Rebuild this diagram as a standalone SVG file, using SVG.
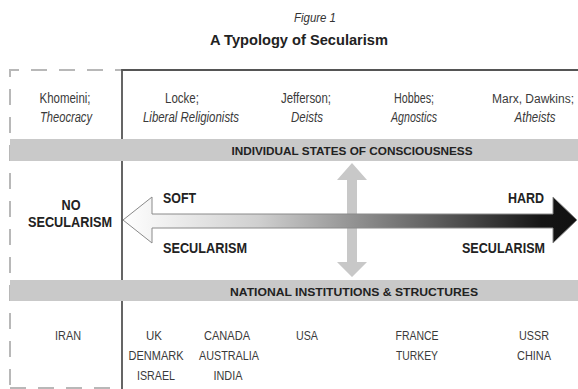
<svg xmlns="http://www.w3.org/2000/svg" width="578" height="389" viewBox="0 0 578 389">
<style>
text{font-family:"Liberation Sans","Arial",sans-serif;}
.t{fill:#3a3a3a;font-size:14px;text-anchor:middle;}
.c{fill:#3a3a3a;font-size:13.5px;text-anchor:middle;}
.i{font-style:italic;}
.b{font-weight:bold;fill:#222;font-size:15px;}
.band{fill:#c9c9c9;}
.bt{font-weight:bold;fill:#222;font-size:11.5px;text-anchor:middle;}
.dash{stroke:#b8b8b8;stroke-width:2;fill:none;stroke-dasharray:16 12;}
</style>
<defs>
<linearGradient id="g" x1="122" y1="0" x2="578" y2="0" gradientUnits="userSpaceOnUse">
<stop offset="0" stop-color="#ffffff"/>
<stop offset="0.3" stop-color="#cfcfcf"/>
<stop offset="0.7" stop-color="#5a5a5a"/>
<stop offset="0.92" stop-color="#151515"/>
<stop offset="1" stop-color="#111"/>
</linearGradient>
</defs>
<rect width="578" height="389" fill="#fff"/>
<g id="title">
<text x="294" y="22" textLength="42" lengthAdjust="spacingAndGlyphs" font-family="Liberation Serif,serif" font-style="italic" font-size="13" fill="#333">Figure 1</text>
<text x="210" y="45" textLength="178" lengthAdjust="spacingAndGlyphs" class="b" font-size="16">A Typology of Secularism</text>
</g>
<g id="frame">
<path class="dash" d="M10 385 V70 H122"/>
<path class="dash" d="M10 388 H122" stroke="#e0e0e0"/>
<path d="M122 389 V70 H578" stroke="#555" stroke-width="1.8" fill="none"/>
</g>
<g id="bands">
<rect class="band" x="10" y="139" width="568" height="22"/>
<text class="bt" x="352" y="155" textLength="241" lengthAdjust="spacingAndGlyphs">INDIVIDUAL STATES OF CONSCIOUSNESS</text>
<rect class="band" x="10" y="280" width="568" height="21"/>
<text class="bt" x="354" y="296" textLength="248" lengthAdjust="spacingAndGlyphs">NATIONAL INSTITUTIONS &amp; STRUCTURES</text>
</g>
<g id="thinkers">
<text class="t" x="65" y="103" textLength="51" lengthAdjust="spacingAndGlyphs">Khomeini;</text>
<text class="t i" x="66" y="122" textLength="52" lengthAdjust="spacingAndGlyphs">Theocracy</text>
<text class="t" x="182" y="103" textLength="34" lengthAdjust="spacingAndGlyphs">Locke;</text>
<text class="t i" x="191" y="122" textLength="96" lengthAdjust="spacingAndGlyphs">Liberal Religionists</text>
<text class="t" x="306" y="103" textLength="50" lengthAdjust="spacingAndGlyphs">Jefferson;</text>
<text class="t i" x="307" y="122" textLength="32" lengthAdjust="spacingAndGlyphs">Deists</text>
<text class="t" x="414" y="103" textLength="40" lengthAdjust="spacingAndGlyphs">Hobbes;</text>
<text class="t i" x="414" y="122" textLength="46" lengthAdjust="spacingAndGlyphs">Agnostics</text>
<text x="574" y="103" font-size="12" fill="#3a3a3a" text-anchor="end">Marx, Dawkins;</text>
<text class="t i" x="535" y="122" textLength="41" lengthAdjust="spacingAndGlyphs">Atheists</text>
</g>
<g id="connectors">
<polygon points="352,163 367,180 357,180 357,262 367,262 352,277 337,262 347,262 347,180 337,180" fill="#c8c8c8"/>
<polygon points="123,220 152,197 152,214 553,214 553,197 577,220 553,243 553,228 152,228 152,243" fill="url(#g)" stroke="#8a8a8a" stroke-width="1"/>
</g>
<g id="labels">
<text class="b" x="71" y="210" text-anchor="middle" textLength="19" lengthAdjust="spacingAndGlyphs">NO</text>
<text class="b" x="70" y="227" text-anchor="middle" textLength="84" lengthAdjust="spacingAndGlyphs">SECULARISM</text>
<text class="b" x="163" y="203" textLength="33" lengthAdjust="spacingAndGlyphs">SOFT</text>
<text class="b" x="163" y="253" textLength="84" lengthAdjust="spacingAndGlyphs">SECULARISM</text>
<text class="b" x="508" y="203" textLength="36" lengthAdjust="spacingAndGlyphs">HARD</text>
<text class="b" x="462" y="253" textLength="83" lengthAdjust="spacingAndGlyphs">SECULARISM</text>
</g>
<g id="countries">
<text class="c" x="68" y="340" textLength="26" lengthAdjust="spacingAndGlyphs">IRAN</text>
<text class="c" x="154" y="340" textLength="16" lengthAdjust="spacingAndGlyphs">UK</text>
<text class="c" x="156" y="360" textLength="55" lengthAdjust="spacingAndGlyphs">DENMARK</text>
<text class="c" x="156" y="380" textLength="38" lengthAdjust="spacingAndGlyphs">ISRAEL</text>
<text class="c" x="227" y="340" textLength="46" lengthAdjust="spacingAndGlyphs">CANADA</text>
<text class="c" x="229" y="360" textLength="60" lengthAdjust="spacingAndGlyphs">AUSTRALIA</text>
<text class="c" x="228" y="380" textLength="29" lengthAdjust="spacingAndGlyphs">INDIA</text>
<text class="c" x="307" y="340" textLength="22" lengthAdjust="spacingAndGlyphs">USA</text>
<text class="c" x="417" y="340" textLength="43" lengthAdjust="spacingAndGlyphs">FRANCE</text>
<text class="c" x="417" y="360" textLength="42" lengthAdjust="spacingAndGlyphs">TURKEY</text>
<text class="c" x="534" y="340" textLength="30" lengthAdjust="spacingAndGlyphs">USSR</text>
<text class="c" x="534" y="360" textLength="34" lengthAdjust="spacingAndGlyphs">CHINA</text>
</g>
</svg>
